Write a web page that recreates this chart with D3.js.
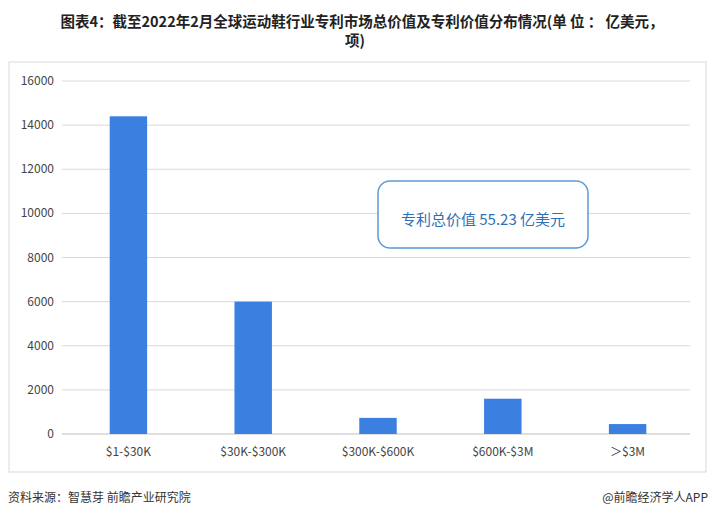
<!DOCTYPE html><html><head><meta charset="utf-8"><script src="https://cdn.jsdelivr.net/npm/d3@7"></script>
<style>body{margin:0;background:#fff}text{font-family:"Noto Sans CJK SC","Noto Sans",sans-serif}</style></head><body><svg id="c" width="714" height="518"></svg>
<script>
const categories=["$1-$30K","$30K-$300K","$300K-$600K","$600K-$3M","＞$3M"];
const values=[14400,6000,730,1600,450];
const yTicks=[0,2000,4000,6000,8000,10000,12000,14000,16000];
const svg=d3.select("#c");
svg.append("text").attr("x",362).attr("y",27).attr("text-anchor","middle").attr("font-size",14.5).attr("font-weight","bold").attr("fill","#222").text("图表4：截至2022年2月全球运动鞋行业专利市场总价值及专利价值分布情况(单 位 ： 亿美元，");
svg.append("text").attr("x",355).attr("y",46).attr("text-anchor","middle").attr("font-size",14.5).attr("font-weight","bold").attr("fill","#222").text("项)");
svg.append("rect").attr("x",9).attr("y",62).attr("width",697).attr("height",410).attr("fill","none").attr("stroke","#d9d9d9");
const x=d3.scaleBand().domain(categories).range([66,690]).paddingInner(0.7).paddingOuter(0.35);
const y=d3.scaleLinear().domain([0,16000]).range([434,81]);
const g=svg.append("g");
yTicks.forEach(t=>{g.append("line").attr("x1",62).attr("x2",690).attr("y1",y(t)).attr("y2",y(t)).attr("stroke",t===0?"#bfbfbf":"#d9d9d9");
g.append("text").attr("x",54).attr("y",y(t)+4).attr("text-anchor","end").attr("font-size",12).attr("fill","#444").text(t);});
g.selectAll(".b").data(values).enter().append("rect").attr("x",(d,i)=>x(categories[i])).attr("width",x.bandwidth()).attr("y",d=>y(d)).attr("height",d=>434-y(d)).attr("fill","#3b7fe0");
categories.forEach(c=>g.append("text").attr("x",x(c)+x.bandwidth()/2).attr("y",456).attr("text-anchor","middle").attr("font-size",12).attr("fill","#444").text(c));
svg.append("rect").attr("x",378).attr("y",181).attr("width",210).attr("height",67).attr("rx",12).attr("fill","#fff").attr("stroke","#5b9bd5").attr("stroke-width",1.5);
svg.append("text").attr("x",483).attr("y",225).attr("text-anchor","middle").attr("font-size",15).attr("fill","#2e6fb7").text("专利总价值 55.23 亿美元");
svg.append("text").attr("x",8).attr("y",502).attr("font-size",12).attr("fill","#333").text("资料来源：智慧芽 前瞻产业研究院");
svg.append("text").attr("x",708).attr("y",502).attr("text-anchor","end").attr("font-size",12).attr("fill","#333").text("@前瞻经济学人APP");
</script></body></html>
